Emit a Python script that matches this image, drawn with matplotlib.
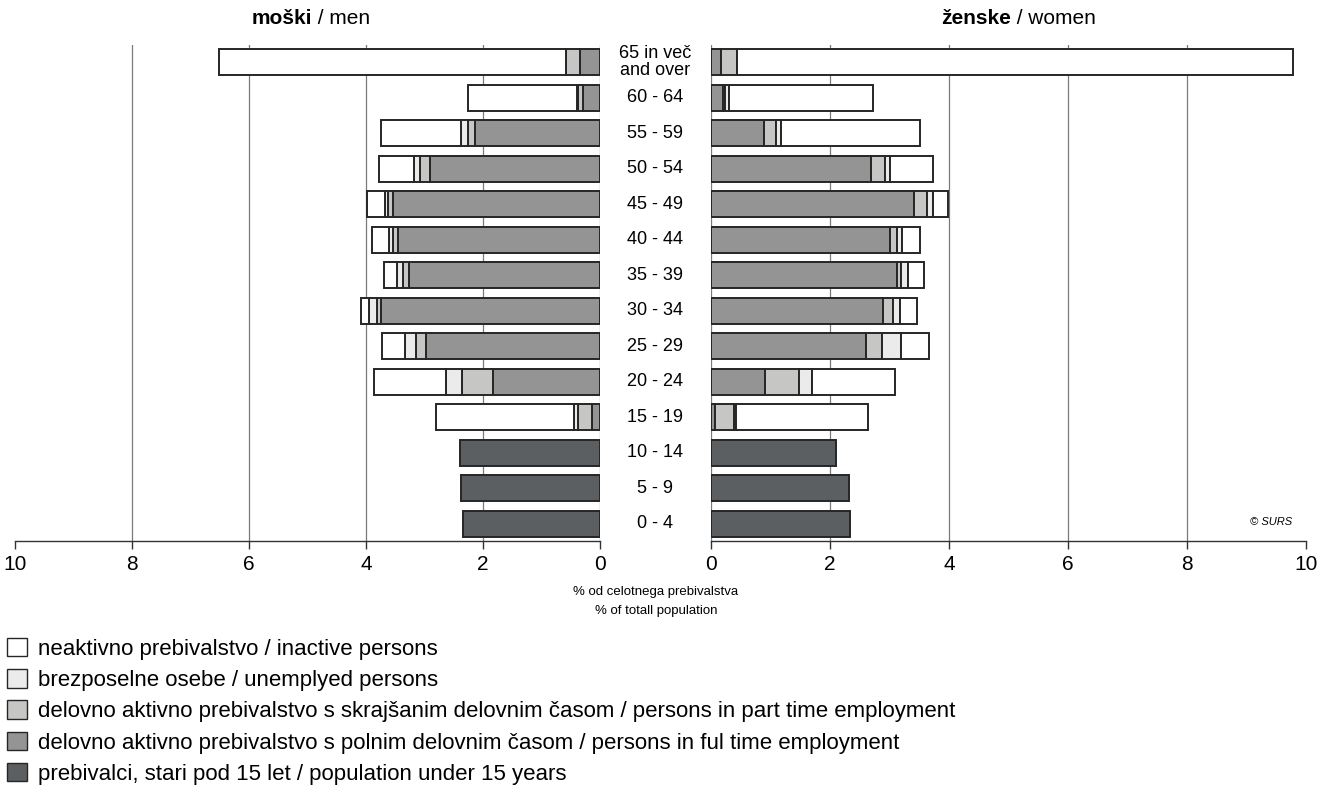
import numpy as np
import matplotlib
matplotlib.use("Agg")
import matplotlib.pyplot as plt
from matplotlib.patches import Patch

plt.rcParams.update({
    "font.family": ["Liberation Sans", "DejaVu Sans"],
    "font.size": 12,
})

# ---------------------------------------------------------------------------
# Data (% of total population), top row = oldest group
# ---------------------------------------------------------------------------
AGE_GROUPS = ["65 in več\nand over", "60 - 64", "55 - 59", "50 - 54", "45 - 49",
              "40 - 44", "35 - 39", "30 - 34", "25 - 29", "20 - 24", "15 - 19",
              "10 - 14", "5 - 9", "0 - 4"]

men_fulltime   = [0.34, 0.29, 2.13, 2.90, 3.53, 3.46, 3.27, 3.74, 2.97, 1.83, 0.14, 0, 0, 0]
men_parttime   = [0.24, 0.08, 0.13, 0.18, 0.09, 0.07, 0.09, 0.07, 0.18, 0.53, 0.23, 0, 0, 0]
men_unemployed = [0.00, 0.02, 0.12, 0.10, 0.06, 0.07, 0.11, 0.14, 0.19, 0.28, 0.07, 0, 0, 0]
men_inactive   = [5.93, 1.87, 1.37, 0.59, 0.31, 0.29, 0.22, 0.13, 0.39, 1.22, 2.37, 0, 0, 0]
men_under15    = [0, 0, 0, 0, 0, 0, 0, 0, 0, 0, 0, 2.40, 2.37, 2.35]

women_fulltime   = [0.16, 0.20, 0.89, 2.69, 3.42, 3.01, 3.12, 2.89, 2.60, 0.91, 0.06, 0, 0, 0]
women_parttime   = [0.27, 0.04, 0.20, 0.24, 0.21, 0.12, 0.08, 0.17, 0.27, 0.57, 0.32, 0, 0, 0]
women_unemployed = [0.00, 0.06, 0.08, 0.08, 0.10, 0.08, 0.11, 0.11, 0.32, 0.21, 0.04, 0, 0, 0]
women_inactive   = [9.35, 2.43, 2.34, 0.72, 0.25, 0.30, 0.27, 0.29, 0.47, 1.40, 2.22, 0, 0, 0]
women_under15    = [0, 0, 0, 0, 0, 0, 0, 0, 0, 0, 0, 2.10, 2.32, 2.34]

TICKS = [0, 2, 4, 6, 8, 10]

COLORS = {
    "inactive":   "#ffffff",
    "unemployed": "#ebebeb",
    "parttime":   "#c6c6c4",
    "fulltime":   "#949494",
    "under15":    "#5c5f61",
}
LABELS = {
    "inactive":   "neaktivno prebivalstvo / inactive persons",
    "unemployed": "brezposelne osebe / unemplyed persons",
    "parttime":   "delovno aktivno prebivalstvo s skrajšanim delovnim časom / persons in part time employment",
    "fulltime":   "delovno aktivno prebivalstvo s polnim delovnim časom / persons in ful time employment",
    "under15":    "prebivalci, stari pod 15 let / population under 15 years",
}
EDGE = "#262626"

W, H = 1327, 791
fig = plt.figure(figsize=(W / 100, H / 100), dpi=100)


def fx(px):
    return px / W


def fy(px):
    return 1 - px / H


ax_m = fig.add_axes([fx(15), fy(541), fx(600 - 15), fy(45) - fy(541)])
ax_w = fig.add_axes([fx(711), fy(541), fx(1306 - 711), fy(45) - fy(541)])

n = len(AGE_GROUPS)
y = np.arange(n)[::-1]


def draw_side(ax, series):
    left = np.zeros(n)
    for key, vals in series:
        vals = np.asarray(vals, dtype=float)
        mask = vals > 0
        ax.barh(y[mask], vals[mask], left=left[mask], height=0.73,
                color=COLORS[key], edgecolor=EDGE, linewidth=1.4, zorder=3)
        left += vals
    ax.set_ylim(-0.48, n - 1 + 0.48)
    ax.set_yticks([])
    for s in ["top", "right", "left"]:
        ax.spines[s].set_visible(False)
    ax.spines["bottom"].set_color("#333333")
    ax.spines["bottom"].set_linewidth(1.0)
    ax.set_xticks(TICKS)
    ax.set_xticklabels([str(t) for t in TICKS], fontsize=15)
    ax.tick_params(axis="x", direction="out", length=6, width=1.0,
                   color="#333333", pad=4)
    for t in TICKS[:-1]:
        ax.axvline(t, color="#7a7a7a", linewidth=0.9, zorder=1)


draw_side(ax_m, [("fulltime", men_fulltime), ("parttime", men_parttime),
                 ("unemployed", men_unemployed), ("inactive", men_inactive),
                 ("under15", men_under15)])
ax_m.set_xlim(10, 0)

draw_side(ax_w, [("fulltime", women_fulltime), ("parttime", women_parttime),
                 ("unemployed", women_unemployed), ("inactive", women_inactive),
                 ("under15", women_under15)])
ax_w.set_xlim(0, 10)

# age group labels in the middle
for yi, lab in zip(y, AGE_GROUPS):
    ax_m.annotate(lab, xy=(0, yi), xycoords="data", xytext=(55, 0),
                  textcoords="offset pixels", ha="center", va="center",
                  fontsize=13, linespacing=0.95, annotation_clip=False)


# panel titles: bold + regular part
def panel_title(x_split, bold, rest):
    fig.text(fx(x_split), fy(19), bold, fontsize=15, fontweight="bold",
             ha="right", va="center")
    fig.text(fx(x_split), fy(19), rest, fontsize=15, ha="left", va="center")


panel_title(312, "moški", " / men")
panel_title(1011, "ženske", " / women")

fig.text(fx(656), fy(592), "% od celotnega prebivalstva", ha="center",
         va="center", fontsize=9.5)
fig.text(fx(656), fy(611), "% of totall population", ha="center",
         va="center", fontsize=9.5)

fig.text(fx(1292), fy(522), "© SURS", ha="right", va="center",
         fontsize=8, style="italic")

keys = ["inactive", "unemployed", "parttime", "fulltime", "under15"]
handles = [Patch(facecolor=COLORS[k], edgecolor=EDGE, linewidth=1.0) for k in keys]
labels = [LABELS[k] for k in keys]
fig.legend(handles, labels, loc="upper left", bbox_to_anchor=(fx(7), fy(638)),
           frameon=False, fontsize=16, handlelength=0.9, handleheight=0.9,
           handletextpad=0.5, labelspacing=0.42, borderpad=0, borderaxespad=0)

fig.savefig("out.png", dpi=100)
